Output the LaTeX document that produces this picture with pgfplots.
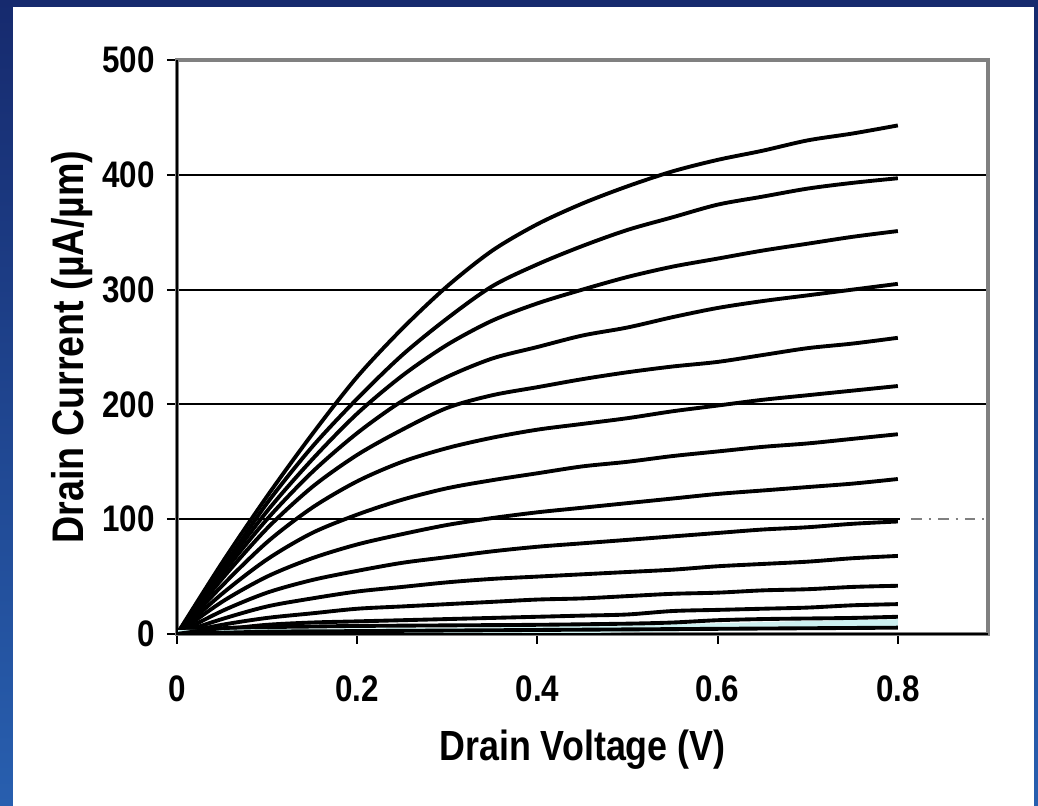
\documentclass[border=0pt]{standalone}
\usepackage{pgfplots}
\pgfplotsset{compat=1.18}
\usepackage{fontspec}
\setmainfont{Liberation Sans}[FakeStretch=0.85]
\definecolor{navy}{RGB}{22,42,110}
\definecolor{slideblue}{RGB}{40,95,175}
\definecolor{cyanband}{RGB}{205,240,240}
\begin{document}
\begin{tikzpicture}[x=1cm,y=1cm]
\shade[top color=navy,bottom color=slideblue] (0,0) rectangle (10.38,8.06);
\fill[white] (0.13,0) rectangle (10.34,7.99);
\begin{axis}[
  at={(1.77cm,1.72cm)}, anchor=south west,
  scale only axis, width=8.11cm, height=5.74cm,
  xmin=0, xmax=0.9, ymin=0, ymax=500,
  xtick={0,0.2,0.4,0.6,0.8}, ytick={0,100,200,300,400,500},
  xticklabels={0,0.2,0.4,0.6,0.8},
  tick align=outside, major tick length=0.1cm,
  tick style={black, line width=0.6pt},
  xtick pos=bottom, ytick pos=left,
  ymajorgrids, grid style={black, line width=0.55pt},
  axis line style={gray, line width=0.9pt},
  /pgf/number format/assume math mode=true,
  ticklabel style={font=\bfseries\fontsize{10.5}{12}\selectfont},
  xticklabel style={yshift=-0.19cm},
  every axis x label/.style={at={(rel axis cs:0.5,0)}, anchor=center, yshift=-1.16cm},
  every axis y label/.style={at={(rel axis cs:0,0.5)}, anchor=center, xshift=-1.05cm, rotate=90},
  xlabel style={font=\bfseries\fontsize{12}{14}\selectfont},
  ylabel style={font=\bfseries\fontsize{12.6}{14}\selectfont},
  xlabel={Drain Voltage (V)},
  ylabel={Drain Current (µA/µm)},
  after end axis/.code={\draw[black, line width=0.7pt] (rel axis cs:0,1) -- (rel axis cs:0,0) -- (rel axis cs:1,0);},
  cycle list={{black, solid, mark=none}},
  every axis plot/.append style={line width=1.1pt, smooth},
]
\addplot coordinates {(0,0)(0.05,62)(0.1,120)(0.15,174)(0.2,224)(0.25,266)(0.3,303)(0.35,334)(0.4,357)(0.45,375)(0.5,390)(0.55,403)(0.6,413)(0.65,421)(0.7,430)(0.75,436)(0.8,443)};
\addplot coordinates {(0,0)(0.05,57)(0.1,114)(0.15,163)(0.2,205)(0.25,243)(0.3,275)(0.35,303)(0.4,322)(0.45,338)(0.5,352)(0.55,363)(0.6,374)(0.65,381)(0.7,388)(0.75,393)(0.8,397)};
\addplot coordinates {(0,0)(0.05,55)(0.1,107)(0.15,152)(0.2,192)(0.25,225)(0.3,252)(0.35,273)(0.4,288)(0.45,300)(0.5,311)(0.55,320)(0.6,327)(0.65,334)(0.7,340)(0.75,346)(0.8,351)};
\addplot coordinates {(0,0)(0.05,52)(0.1,100)(0.15,141)(0.2,175)(0.25,203)(0.3,224)(0.35,240)(0.4,250)(0.45,260)(0.5,267)(0.55,276)(0.6,284)(0.65,290)(0.7,295)(0.75,300)(0.8,305)};
\addplot coordinates {(0,0)(0.05,48)(0.1,92)(0.15,128)(0.2,156)(0.25,178)(0.3,197)(0.35,208)(0.4,215)(0.45,222)(0.5,228)(0.55,233)(0.6,237)(0.65,243)(0.7,249)(0.75,253)(0.8,258)};
\addplot coordinates {(0,0)(0.05,42)(0.1,80)(0.15,110)(0.2,133)(0.25,150)(0.3,162)(0.35,171)(0.4,178)(0.45,183)(0.5,188)(0.55,194)(0.6,199)(0.65,204)(0.7,208)(0.75,212)(0.8,216)};
\addplot coordinates {(0,0)(0.05,35)(0.1,65)(0.15,88)(0.2,104)(0.25,117)(0.3,127)(0.35,134)(0.4,140)(0.45,146)(0.5,150)(0.55,155)(0.6,159)(0.65,163)(0.7,166)(0.75,170)(0.8,174)};
\addplot coordinates {(0,0)(0.05,28)(0.1,50)(0.15,66)(0.2,78)(0.25,87)(0.3,95)(0.35,101)(0.4,106)(0.45,110)(0.5,114)(0.55,118)(0.6,122)(0.65,125)(0.7,128)(0.75,131)(0.8,135)};
\addplot coordinates {(0,0)(0.05,20)(0.1,36)(0.15,47)(0.2,55)(0.25,62)(0.3,67)(0.35,72)(0.4,76)(0.45,79)(0.5,82)(0.55,85)(0.6,88)(0.65,91)(0.7,93)(0.75,96)(0.8,98)};
\addplot coordinates {(0,0)(0.05,13)(0.1,24)(0.15,31)(0.2,37)(0.25,41)(0.3,45)(0.35,48)(0.4,50)(0.45,52)(0.5,54)(0.55,56)(0.6,59)(0.65,61)(0.7,63)(0.75,66)(0.8,68)};
\addplot coordinates {(0,0)(0.05,8)(0.1,14)(0.15,18)(0.2,22)(0.25,24)(0.3,26)(0.35,28)(0.4,30)(0.45,31)(0.5,33)(0.55,35)(0.6,36)(0.65,38)(0.7,39)(0.75,41)(0.8,42)};
\addplot coordinates {(0,0)(0.05,4)(0.1,8)(0.15,10)(0.2,11)(0.25,12)(0.3,13)(0.35,14)(0.4,15)(0.45,16)(0.5,17)(0.55,20)(0.6,21)(0.65,22)(0.7,23)(0.75,25)(0.8,26)};
\addplot[cyanband, line width=2.2pt] coordinates {(0,0)(0.1,1)(0.2,1.5)(0.3,2)(0.4,3)(0.5,5)(0.6,6)(0.7,8)(0.8,9.5)};
\addplot coordinates {(0,0)(0.05,5)(0.1,6)(0.15,6.5)(0.2,7)(0.3,7.5)(0.4,8)(0.5,9)(0.55,10)(0.6,12)(0.65,13)(0.7,13.5)(0.75,14)(0.8,15)};
\addplot coordinates {(0,0)(0.1,2)(0.2,2.5)(0.3,3)(0.4,3.5)(0.5,4)(0.6,4.5)(0.7,5)(0.8,5.5)};
\addplot[white, line width=1.2pt, sharp plot] coordinates {(0.802,100)(0.898,100)};
\addplot[gray, line width=0.6pt, dash dot, sharp plot] coordinates {(0.815,100)(0.898,100)};
\end{axis}
\end{tikzpicture}
\end{document}
